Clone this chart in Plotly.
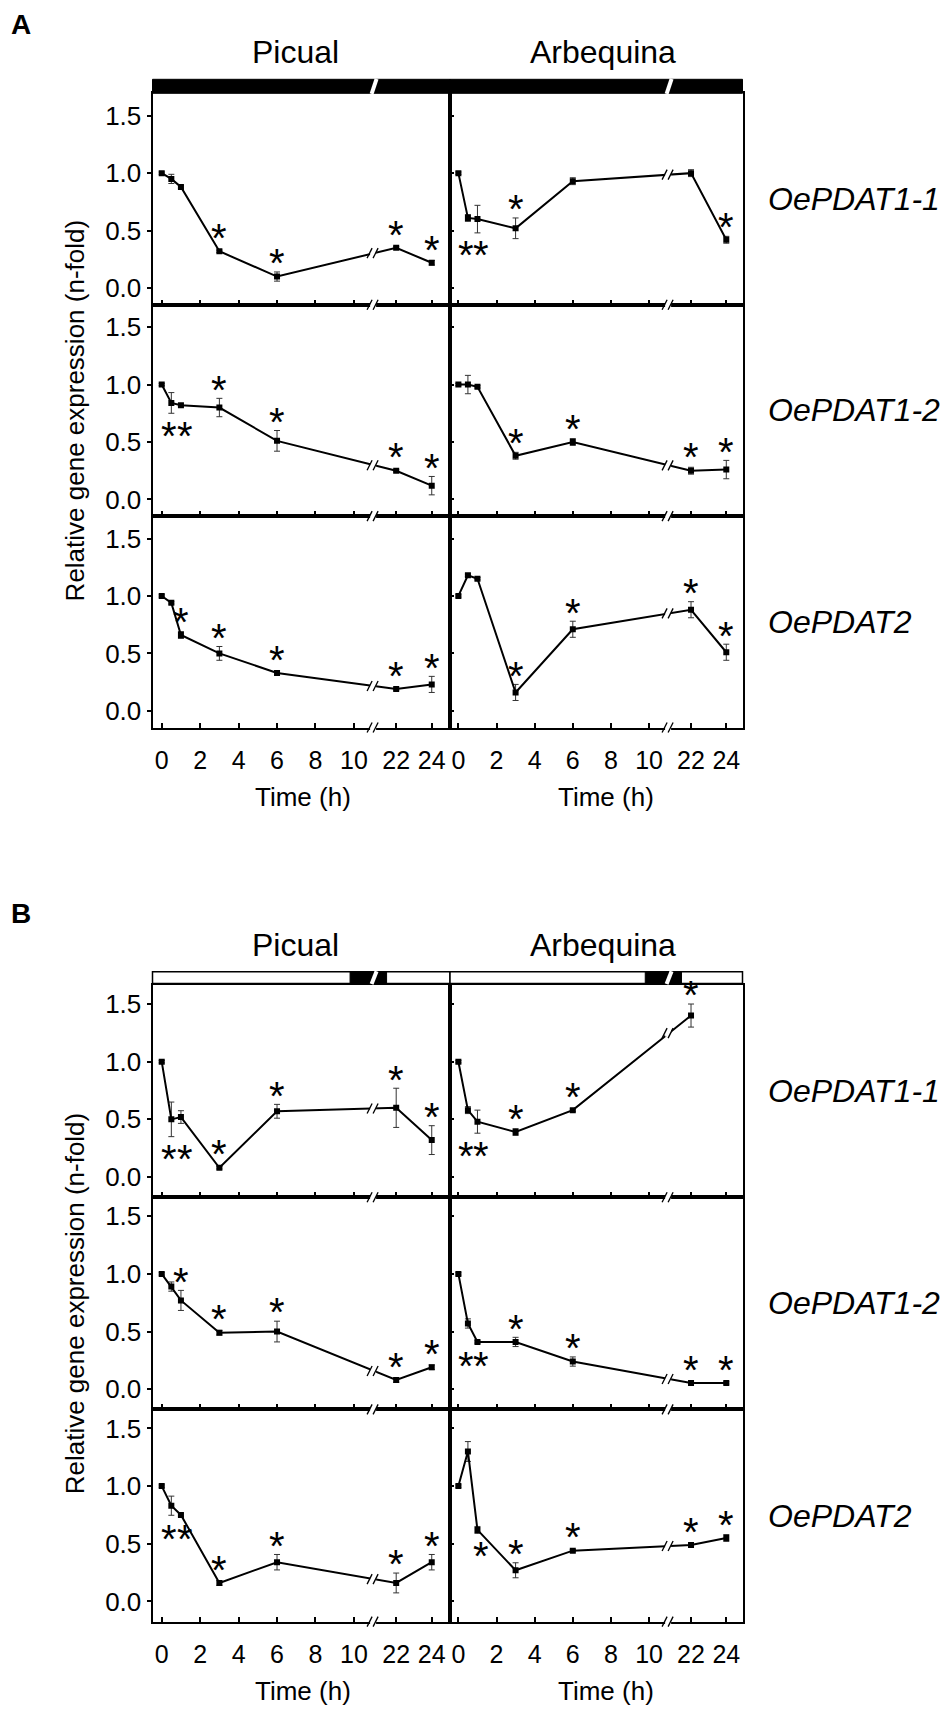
import plotly.graph_objects as go

FIG_W, FIG_H = 950, 1710
FONT = 'Liberation Sans, Arial, sans-serif'

TIME_H = [0, 0.5, 1, 3, 6, 22, 24]
X_TICK_HOURS = [0, 2, 4, 6, 8, 10, 22, 24]
Y_TICKS = [0.0, 0.5, 1.0, 1.5]
CULTIVARS = ['Picual', 'Arbequina']
GENES = ['OePDAT1-1', 'OePDAT1-2', 'OePDAT2']
SECTIONS = ['A', 'B']

# stars: 1 = asterisk above the point, -1 = below, 0 = none
# --- A (dark) ---
A_PIC_11 = [1.0, 0.95, 0.88, 0.32, 0.10, 0.35, 0.22]
A_PIC_11_ERR = [0.01, 0.04, 0.01, 0.01, 0.04, 0.01, 0.02]
A_PIC_11_STAR = [0, 0, 0, 1, 1, 1, 1]
A_ARB_11 = [1.0, 0.61, 0.60, 0.52, 0.93, 1.0, 0.42]
A_ARB_11_ERR = [0.01, 0.03, 0.12, 0.09, 0.03, 0.03, 0.03]
A_ARB_11_STAR = [0, -1, -1, 1, 0, 0, 1]
A_PIC_12 = [1.0, 0.84, 0.82, 0.80, 0.51, 0.25, 0.12]
A_PIC_12_ERR = [0.01, 0.09, 0.01, 0.08, 0.09, 0.01, 0.08]
A_PIC_12_STAR = [0, -1, -1, 1, 1, 1, 1]
A_ARB_12 = [1.0, 1.0, 0.98, 0.38, 0.50, 0.25, 0.26]
A_ARB_12_ERR = [0.01, 0.08, 0.01, 0.03, 0.03, 0.03, 0.08]
A_ARB_12_STAR = [0, 0, 0, 1, 1, 1, 1]
A_PIC_2 = [1.0, 0.94, 0.66, 0.50, 0.33, 0.19, 0.23]
A_PIC_2_ERR = [0.01, 0.01, 0.03, 0.06, 0.02, 0.01, 0.07]
A_PIC_2_STAR = [0, 0, 1, 1, 1, 1, 1]
A_ARB_2 = [1.0, 1.18, 1.15, 0.16, 0.71, 0.88, 0.51]
A_ARB_2_ERR = [0.01, 0.01, 0.01, 0.07, 0.07, 0.07, 0.07]
A_ARB_2_STAR = [0, 0, 0, 1, 1, 1, 1]

# --- B (light) ---
B_PIC_11 = [1.0, 0.50, 0.52, 0.08, 0.57, 0.60, 0.32]
B_PIC_11_ERR = [0.01, 0.15, 0.055, 0.01, 0.06, 0.17, 0.125]
B_PIC_11_STAR = [0, -1, -1, 1, 1, 1, 1]
B_ARB_11 = [1.0, 0.58, 0.48, 0.39, 0.58, 1.40, None]
B_ARB_11_ERR = [0.01, 0.03, 0.10, 0.03, 0.01, 0.10, None]
B_ARB_11_STAR = [0, -1, -1, 1, 1, 1, 0]
B_PIC_12 = [1.0, 0.89, 0.77, 0.49, 0.50, 0.08, 0.19]
B_PIC_12_ERR = [0.01, 0.04, 0.087, 0.02, 0.09, 0.02, 0.02]
B_PIC_12_STAR = [0, 0, 1, 1, 1, 1, 1]
B_ARB_12 = [1.0, 0.57, 0.41, 0.41, 0.24, 0.055, 0.055]
B_ARB_12_ERR = [0.01, 0.04, 0.01, 0.04, 0.04, 0.01, 0.01]
B_ARB_12_STAR = [0, -1, -1, 1, 1, 1, 1]
B_PIC_2 = [1.0, 0.83, 0.75, 0.16, 0.34, 0.16, 0.34]
B_PIC_2_ERR = [0.01, 0.083, 0.01, 0.02, 0.067, 0.086, 0.067]
B_PIC_2_STAR = [0, -1, -1, 1, 1, 1, 1]
B_ARB_2 = [1.0, 1.30, 0.62, 0.27, 0.44, 0.49, 0.55]
B_ARB_2_ERR = [0.01, 0.086, 0.03, 0.065, 0.01, 0.01, 0.03]
B_ARB_2_STAR = [0, 0, -1, 1, 1, 1, 1]

PANELS = {
    ('A', 0, 0): (A_PIC_11, A_PIC_11_ERR, A_PIC_11_STAR),
    ('A', 0, 1): (A_ARB_11, A_ARB_11_ERR, A_ARB_11_STAR),
    ('A', 1, 0): (A_PIC_12, A_PIC_12_ERR, A_PIC_12_STAR),
    ('A', 1, 1): (A_ARB_12, A_ARB_12_ERR, A_ARB_12_STAR),
    ('A', 2, 0): (A_PIC_2, A_PIC_2_ERR, A_PIC_2_STAR),
    ('A', 2, 1): (A_ARB_2, A_ARB_2_ERR, A_ARB_2_STAR),
    ('B', 0, 0): (B_PIC_11, B_PIC_11_ERR, B_PIC_11_STAR),
    ('B', 0, 1): (B_ARB_11, B_ARB_11_ERR, B_ARB_11_STAR),
    ('B', 1, 0): (B_PIC_12, B_PIC_12_ERR, B_PIC_12_STAR),
    ('B', 1, 1): (B_ARB_12, B_ARB_12_ERR, B_ARB_12_STAR),
    ('B', 2, 0): (B_PIC_2, B_PIC_2_ERR, B_PIC_2_STAR),
    ('B', 2, 1): (B_ARB_2, B_ARB_2_ERR, B_ARB_2_STAR),
}

# geometry, in pixels of the 950x1710 page
COL_PX = [(152.5, 450.0), (450.0, 742.5)]
X_RANGES = [(-0.48, 15.0), (-0.44, 14.9)]
ROWS_TOP = {'A': 93.3, 'B': 985.0}
ROW_H = {'A': 211.4, 'B': 212.2}
Y_RANGES = {'A': (-0.145, 1.695), 'B': (-0.175, 1.665)}
BREAK_AT = 11.05
DARK_FROM, DARK_TO = 9.8, 11.7


def hour_to_axis(h):
    # broken axis: 0-10 h linear, 22 and 24 h squeezed in after the break
    return h if h <= 10 else 12.2 + (h - 22) * 0.925


def panel_box(sec, row, col):
    x0, x1 = COL_PX[col]
    y0 = ROWS_TOP[sec] + row * ROW_H[sec]
    return x0, x1, y0, y0 + ROW_H[sec]


def to_px(sec, row, col, xv, yv):
    x0, x1, y0, y1 = panel_box(sec, row, col)
    rx, ry = X_RANGES[col], Y_RANGES[sec]
    px = x0 + (xv - rx[0]) / (rx[1] - rx[0]) * (x1 - x0)
    py = y1 - (yv - ry[0]) / (ry[1] - ry[0]) * (y1 - y0)
    return px, py


def pp(px, py):
    return px / FIG_W, 1 - py / FIG_H


def text_at(px, py, text, size, xanchor='center', **kw):
    xa, ya = pp(px, py)
    return dict(x=xa, y=ya, xref='paper', yref='paper', text=text, showarrow=False,
                xanchor=xanchor, yanchor='middle',
                font=dict(size=size, color='black', family=FONT), **kw)


def break_marks(px, py):
    xa, ya = pp(px, py)
    common = dict(xref='paper', yref='paper', xsizemode='pixel', ysizemode='pixel',
                  xanchor=xa, yanchor=ya, layer='above')
    return [
        dict(type='rect', x0=-4, x1=2, y0=-3.5, y1=3.5, fillcolor='white',
             line=dict(color='rgba(0,0,0,0)', width=0), **common),
        dict(type='line', x0=-7, x1=-2, y0=-5, y1=5, line=dict(color='black', width=1.3), **common),
        dict(type='line', x0=-1, x1=4, y0=-5, y1=5, line=dict(color='black', width=1.3), **common),
    ]


fig = go.Figure()
shapes = []
annotations = []
layout_axes = {}

for si, sec in enumerate(SECTIONS):
    for row in range(3):
        for col in range(2):
            n = si * 6 + row * 2 + col + 1
            x0, x1, y0, y1 = panel_box(sec, row, col)
            vals, errs, stars = PANELS[(sec, row, col)]
            xs, ys, es = [], [], []
            for h, v, e in zip(TIME_H, vals, errs):
                if v is None:
                    continue
                xs.append(hour_to_axis(h))
                ys.append(v)
                es.append(e)
            fig.add_trace(go.Scatter(
                x=xs, y=ys, mode='lines+markers',
                xaxis=f'x{n}', yaxis=f'y{n}',
                line=dict(color='black', width=2),
                marker=dict(symbol='square', size=6, color='black'),
                error_y=dict(type='data', array=es, visible=True, color='#333333',
                             thickness=1, width=3),
                showlegend=False, hoverinfo='skip'
            ))

            layout_axes[f'xaxis{n}'] = dict(
                domain=[x0 / FIG_W, x1 / FIG_W], range=list(X_RANGES[col]),
                anchor=f'y{n}', tickvals=[hour_to_axis(h) for h in X_TICK_HOURS],
                ticktext=[str(h) for h in X_TICK_HOURS], ticks='inside', ticklen=5,
                tickwidth=1.5, tickcolor='black', showline=True, mirror=True,
                linewidth=2, linecolor='black', showgrid=False, zeroline=False,
                showticklabels=(row == 2), ticklabelstandoff=9,
                tickfont=dict(size=25, color='black', family=FONT), fixedrange=True)
            layout_axes[f'yaxis{n}'] = dict(
                domain=[1 - y1 / FIG_H, 1 - y0 / FIG_H], range=list(Y_RANGES[sec]),
                anchor=f'x{n}', tickvals=Y_TICKS, tickformat='.1f',
                ticks='outside' if col == 0 else 'inside', ticklen=4, tickwidth=1.5,
                tickcolor='black', showline=True, mirror=True, linewidth=2,
                linecolor='black', showgrid=False, zeroline=False,
                showticklabels=(col == 0),
                tickfont=dict(size=26, color='black', family=FONT), fixedrange=True)

            # significance asterisks
            below = [v - e for v, e, s in zip(vals, errs, stars) if s == -1]
            below_y = min(below) - 0.16 if below else None
            for h, v, e, s in zip(TIME_H, vals, errs, stars):
                if s == 0:
                    continue
                if s == 1:
                    ya = v + max(e, 0.04) + 0.11
                    xs_shift = 0
                else:
                    ya = below_y
                    xs_shift = -2 if h == 0.5 else 4
                annotations.append(dict(
                    x=hour_to_axis(h), y=ya, xref=f'x{n}', yref=f'y{n}', text='*',
                    showarrow=False, xanchor='center', yanchor='middle',
                    xshift=xs_shift, yshift=-4,
                    font=dict(size=40, color='black', family=FONT)))

            # break marks on the x axis and on the data line
            bx = to_px(sec, row, col, BREAK_AT, 0)[0]
            shapes += break_marks(bx, y1)
            v6, v22 = vals[4], vals[5]
            xa6, xa22 = hour_to_axis(6), hour_to_axis(22)
            yl = v6 + (v22 - v6) * (BREAK_AT - xa6) / (xa22 - xa6)
            lx, ly = to_px(sec, row, col, BREAK_AT, yl)
            shapes += break_marks(lx, ly)

            if row == 0:
                # dark / light bar above the panels
                if sec == 'A':
                    bar_top, bar_bot = 79.3, 93.3
                    shapes.append(dict(type='rect', xref='paper', yref='paper',
                                       x0=x0 / FIG_W, x1=x1 / FIG_W,
                                       y0=1 - bar_bot / FIG_H, y1=1 - bar_top / FIG_H,
                                       fillcolor='black', line=dict(color='black', width=1)))
                else:
                    bar_top, bar_bot = 971.7, 983.5
                    shapes.append(dict(type='rect', xref='paper', yref='paper',
                                       x0=x0 / FIG_W, x1=x1 / FIG_W,
                                       y0=1 - bar_bot / FIG_H, y1=1 - bar_top / FIG_H,
                                       fillcolor='white', line=dict(color='black', width=1.5)))
                    d0 = to_px(sec, row, col, DARK_FROM, 0)[0]
                    d1 = to_px(sec, row, col, DARK_TO, 0)[0]
                    shapes.append(dict(type='rect', xref='paper', yref='paper',
                                       x0=d0 / FIG_W, x1=d1 / FIG_W,
                                       y0=1 - bar_bot / FIG_H, y1=1 - bar_top / FIG_H,
                                       fillcolor='black', line=dict(color='black', width=1)))
                shapes.append(dict(type='line', xref='paper', yref='paper',
                                   x0=(bx - 2.5) / FIG_W, x1=(bx + 2.5) / FIG_W,
                                   y0=1 - (bar_bot + 0.5) / FIG_H, y1=1 - (bar_top - 0.5) / FIG_H,
                                   line=dict(color='white', width=4)))

                annotations.append(text_at(295 if col == 0 else 603, bar_top - 27,
                                           CULTIVARS[col], 32))

            if col == 1:
                annotations.append(text_at(766, (y0 + y1) / 2, f'<i>{GENES[row]}</i>', 32,
                                           xanchor='left'))

            if row == 2:
                annotations.append(text_at(303 if col == 0 else 606, y1 + 69, 'Time (h)', 26))

    mid = ROWS_TOP[sec] + 1.5 * ROW_H[sec]
    annotations.append(text_at(75, mid, 'Relative gene expression (n-fold)', 26,
                               textangle=-90))

annotations.append(text_at(21, 24, '<b>A</b>', 28))
annotations.append(text_at(21, 913, '<b>B</b>', 28))

fig.update_layout(
    width=FIG_W, height=FIG_H,
    margin=dict(l=0, r=0, t=0, b=0),
    paper_bgcolor='white', plot_bgcolor='white',
    font=dict(family=FONT, color='black'),
    shapes=shapes, annotations=annotations,
    **layout_axes
)

# the page's default body margin would push the 950x1710 figure past the window
fig.write_html('out.html', config={'displayModeBar': False},
               post_script="document.body.style.margin='0';"
                           "document.body.style.overflow='hidden';")
